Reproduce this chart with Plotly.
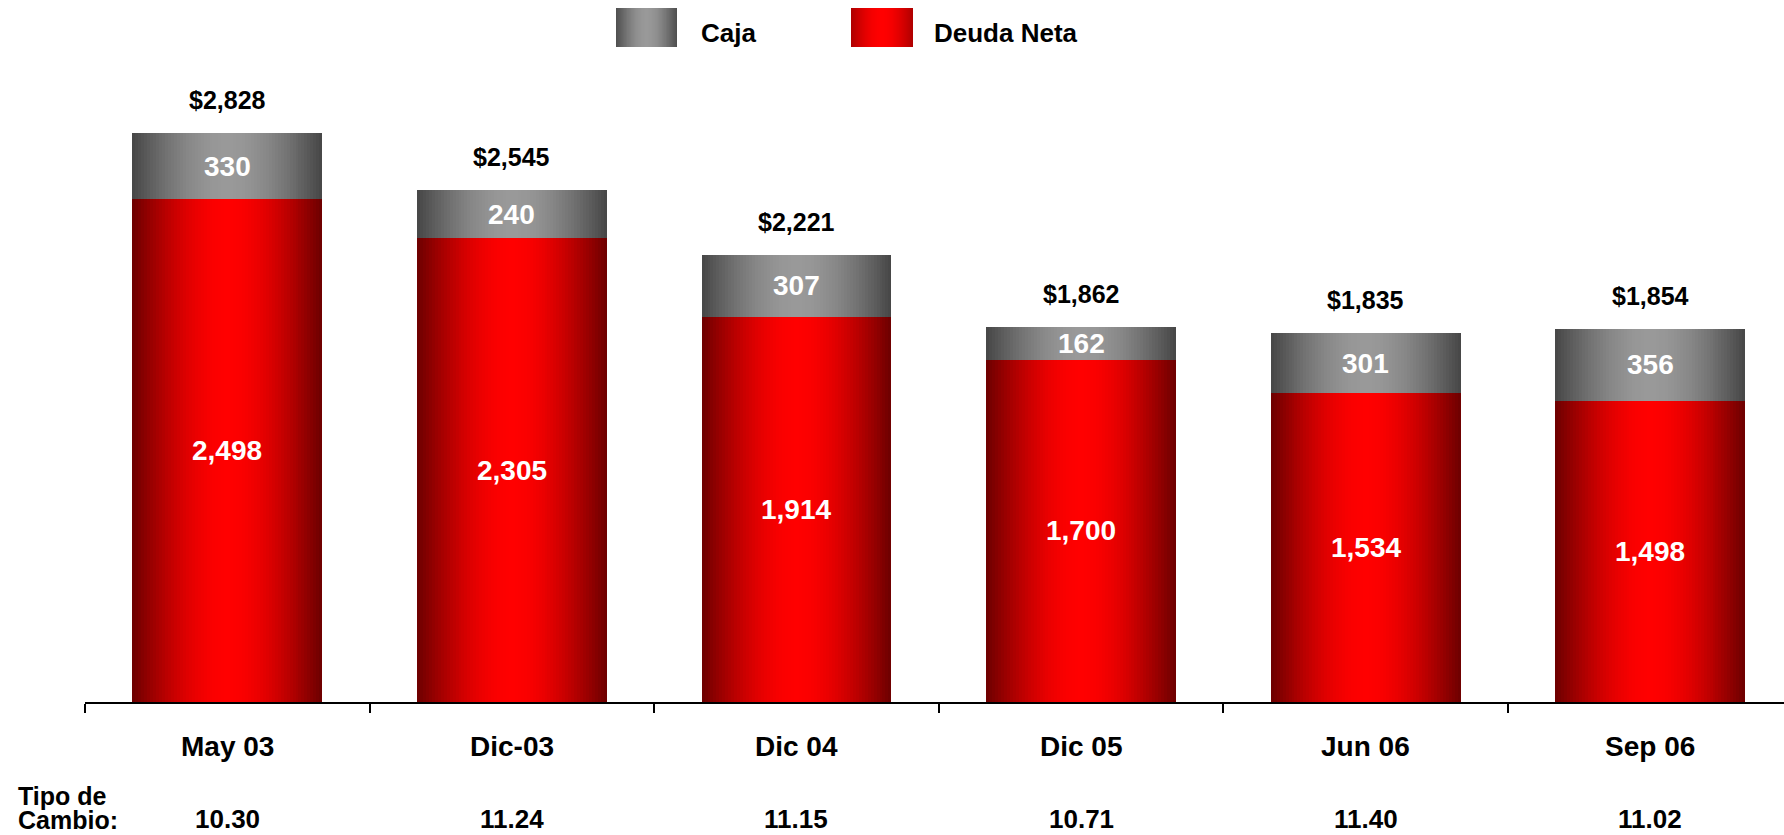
import math
import plotly.graph_objects as go

# %% Datos

periodos = ["May 03", "Dic-03", "Dic 04", "Dic 05", "Jun 06", "Sep 06"]
deuda_neta = [2498, 2305, 1914, 1700, 1534, 1498]
caja = [330, 240, 307, 162, 301, 356]
tipo_cambio = ["10.30", "11.24", "11.15", "10.71", "11.40", "11.02"]

total = [d + c for d, c in zip(deuda_neta, caja)]

# %% Estilo

FONT = "Arial, Liberation Sans, sans-serif"
W, H = 1784, 835
L, B, T = 85, 133, 40
ANCHO = 0.667
N = 32  # capas para simular el degradado horizontal

ROJO_OSCURO, ROJO = (112, 0, 0), (255, 0, 0)
GRIS_OSCURO, GRIS = (72, 72, 72), (153, 153, 153)


def mezcla(c0, c1, t):
    f = math.sin(t * math.pi / 2)
    return "rgb(%d,%d,%d)" % tuple(round(a + (b - a) * f) for a, b in zip(c0, c1))


def px_x(px):
    return (px - L) / (W - L)


def px_y(py):
    return (H - B - py) / (H - B - T)


fig = go.Figure()

# Deuda neta (abajo) y caja (arriba), cada barra en capas cada vez mas angostas y claras
for valores, base, oscuro, claro in [(deuda_neta, None, ROJO_OSCURO, ROJO),
                                     (caja, deuda_neta, GRIS_OSCURO, GRIS)]:
    for k in range(N):
        fig.add_trace(go.Bar(
            x=periodos, y=valores, base=base,
            width=ANCHO * (1 - k / N),
            marker=dict(color=mezcla(oscuro, claro, k / N), line=dict(width=0)),
            hoverinfo="skip", showlegend=False,
        ))

anotaciones = []
for i, p in enumerate(periodos):
    # total arriba de la barra
    anotaciones.append(dict(x=p, y=total[i], yshift=33, text="<b>$%s</b>" % format(total[i], ","),
                            font=dict(size=25, color="black")))
    # caja
    anotaciones.append(dict(x=p, y=deuda_neta[i] + caja[i] / 2, text="<b>%s</b>" % format(caja[i], ","),
                            font=dict(size=28, color="white")))
    # deuda neta
    anotaciones.append(dict(x=p, y=deuda_neta[i] / 2, text="<b>%s</b>" % format(deuda_neta[i], ","),
                            font=dict(size=28, color="white")))
    # periodo
    anotaciones.append(dict(x=p, y=0, yshift=-44, text="<b>%s</b>" % p,
                            font=dict(size=28, color="black")))
    # tipo de cambio
    anotaciones.append(dict(x=p, y=0, yshift=-117, text="<b>%s</b>" % tipo_cambio[i],
                            font=dict(size=26, color="black")))

for a in anotaciones:
    a.update(xref="x", yref="y", showarrow=False, yanchor="middle")

anotaciones += [
    dict(xref="paper", yref="paper", x=px_x(16), y=px_y(796), text="<b>Tipo de</b>",
         xanchor="left", yanchor="middle", showarrow=False, font=dict(size=25, color="black")),
    dict(xref="paper", yref="paper", x=px_x(16), y=px_y(820), text="<b>Cambio:</b>",
         xanchor="left", yanchor="middle", showarrow=False, font=dict(size=25, color="black")),
    dict(xref="paper", yref="paper", x=px_x(699), y=px_y(33), text="<b>Caja</b>",
         xanchor="left", yanchor="middle", showarrow=False, font=dict(size=26, color="black")),
    dict(xref="paper", yref="paper", x=px_x(932), y=px_y(33), text="<b>Deuda Neta</b>",
         xanchor="left", yanchor="middle", showarrow=False, font=dict(size=26, color="black")),
]

# muestras de la leyenda con degradado
shapes = []
for x0, x1, oscuro, claro in [(616, 677, (80, 80, 80), GRIS), (851, 913, (176, 0, 0), ROJO)]:
    cx, hw = (x0 + x1) / 2, (x1 - x0) / 2
    for k in range(N):
        w = hw * (1 - k / N)
        shapes.append(dict(type="rect", xref="paper", yref="paper",
                           x0=px_x(cx - w), x1=px_x(cx + w), y0=px_y(47), y1=px_y(8),
                           fillcolor=mezcla(oscuro, claro, k / N), line=dict(width=0), layer="above"))

fig.update_layout(
    width=W, height=H,
    margin=dict(l=L, r=0, t=T, b=B),
    barmode="overlay",
    bargap=0,
    plot_bgcolor="white", paper_bgcolor="white",
    font=dict(family=FONT, color="black"),
    xaxis=dict(type="category", range=[-0.5, 5.47], showline=True, linecolor="black", linewidth=2,
               ticks="outside", tickson="boundaries", ticklen=9, tickwidth=2, tickcolor="black",
               showticklabels=False, showgrid=False, zeroline=False),
    yaxis=dict(visible=False, range=[0, 3290]),
    annotations=anotaciones,
    shapes=shapes,
    showlegend=False,
)

# sin margen del body para que la figura quede en (0, 0)
fig.write_html("out.html", config={"displayModeBar": False},
               post_script="document.body.style.margin='0';document.body.style.overflow='hidden';")
